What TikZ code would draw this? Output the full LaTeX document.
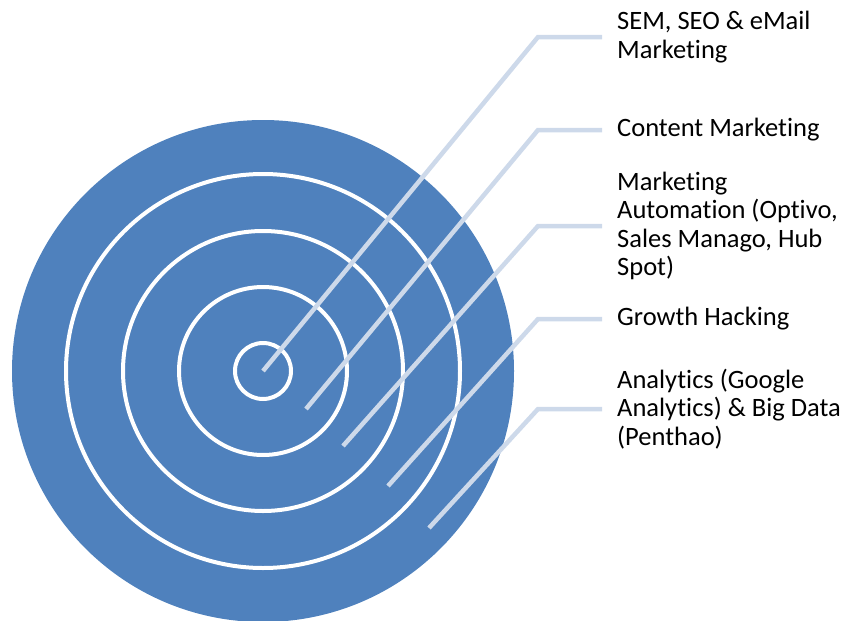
\documentclass[tikz,border=0pt]{standalone}
\usepackage{fontspec}
\setmainfont{Carlito}[Ligatures=NoCommon]
\definecolor{ringblue}{RGB}{79,129,189}
\definecolor{connblue}{RGB}{205,217,234}
\begin{document}
\begin{tikzpicture}[x=1pt,y=-1pt,
  ring/.style={draw=white,line width=4pt},
  conn/.style={draw=connblue,line width=4.5pt,line join=miter},
  lbl/.style={anchor=west,inner sep=0pt,align=left,font=\fontsize{26.5}{28.4}\selectfont}]
\useasboundingbox (0,0) rectangle (846,621);
\begin{scope}
\clip (0,0) rectangle (846,621);
\fill[ringblue] (263,371) circle[radius=251];
\end{scope}
\draw[ring] (263,371) circle[radius=28];
\draw[ring] (263,371) circle[radius=84];
\draw[ring] (263,371) circle[radius=140];
\draw[ring] (263,371) circle[radius=197];
\coordinate (ex) at (538,0);
\coordinate (p1) at (263,371);
\coordinate (p2) at (306,409);
\coordinate (p3) at (343,446);
\coordinate (p4) at (388,486);
\coordinate (p5) at (429,528);
\node[lbl] (l1) at (617,37) {SEM, SEO \& eMail\\Marketing};
\node[lbl] (l2) at (617,130) {Content Marketing};
\node[lbl] (l3) at (617,226) {Marketing\\Automation (Optivo,\\Sales Manago, Hub\\Spot)};
\node[lbl] (l4) at (617,319) {Growth Hacking};
\node[lbl] (l5) at (617,409) {Analytics (Google\\Analytics) \& Big Data\\(Penthao)};
\draw[conn] (p1) -- (l1.west -| ex) -- ([xshift=-15pt]l1.west);
\draw[conn] (p2) -- (l2.west -| ex) -- ([xshift=-15pt]l2.west);
\draw[conn] (p3) -- (l3.west -| ex) -- ([xshift=-15pt]l3.west);
\draw[conn] (p4) -- (l4.west -| ex) -- ([xshift=-15pt]l4.west);
\draw[conn] (p5) -- (l5.west -| ex) -- ([xshift=-15pt]l5.west);
\end{tikzpicture}
\end{document}
